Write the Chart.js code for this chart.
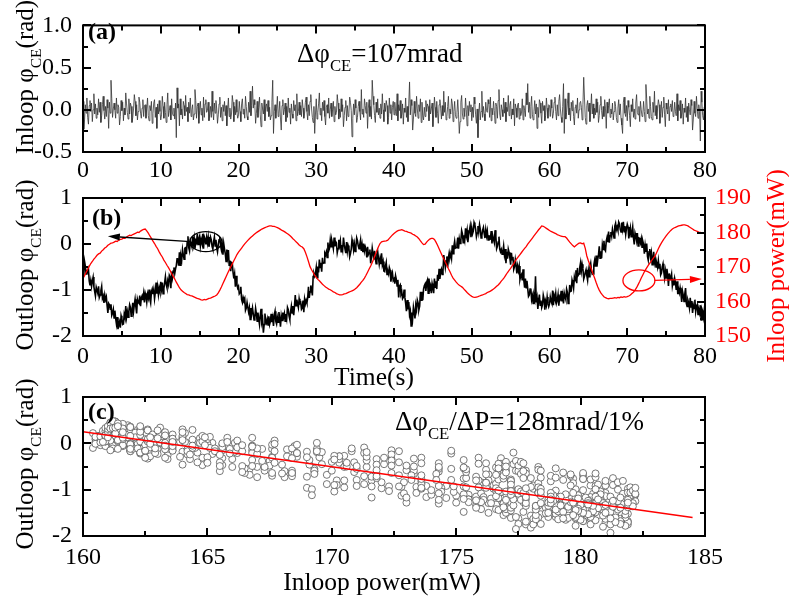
<!DOCTYPE html>
<html>
<head>
<meta charset="utf-8">
<script src="https://cdn.jsdelivr.net/npm/chart.js@4.4.1/dist/chart.umd.min.js"></script>
<style>
  html, body { margin: 0; padding: 0; background: #fff; }
  #wrap { position: relative; width: 789px; height: 603px; }
  #wrap canvas { position: absolute; left: 0; top: 0; }
</style>
</head>
<body>
<div id="wrap">
  <canvas id="chart-a" width="789" height="603"></canvas>
  <canvas id="chart-b" width="789" height="603"></canvas>
  <canvas id="chart-c" width="789" height="603"></canvas>
</div>
<script>
const PHASE_STEP = 0.1; // s between phase samples
const POWER_STEP = 0.2; // s between power samples

// (a) in-loop CE phase, rad, one row = 4 s
const inloopPhase = [
  0.1, -0.23, -0.12, 0.06, -0.04, 0.14, -0.09, -0.17, 0.05, 0.11, -0.02, 0.08, -0.14, 0.0, 0.19, -0.05, 0.07, -0.1, 0.02, -0.06, 0.13, -0.03, 0.09, -0.15, -0.07, 0.06, 0.16, -0.01, -0.11, 0.04, -0.08, 0.12, 0.02, -0.22, 0.09, -0.04, 0.35, 0.13, -0.09, 0.01,
  0.08, 0.0, -0.1, 0.14, -0.04, 0.06, 0.03, -0.18, -0.08, 0.11, -0.01, 0.09, -0.13, 0.02, -0.06, 0.2, 0.07, -0.03, -0.11, 0.13, -0.05, 0.08, 0.04, -0.15, -0.09, 0.01, 0.18, 0.1, -0.07, 0.06, -0.12, -0.02, 0.15, 0.09, -0.04, -0.1, 0.02, 0.12, -0.08, 0.05,
  0.06, -0.1, 0.02, 0.14, -0.07, -0.13, 0.05, -0.01, 0.1, -0.16, -0.04, 0.08, 0.12, -0.09, 0.03, -0.22, 0.07, -0.05, 0.11, -0.02, -0.12, -0.06, 0.16, 0.04, -0.1, 0.09, -0.03, -0.15, 0.06, 0.2, -0.08, -0.01, 0.05, -0.12, 0.13, -0.04, -0.07, 0.02, -0.11, 0.08,
  -0.33, 0.26, 0.02, 0.07, -0.19, 0.13, -0.06, 0.01, -0.11, 0.1, 0.05, -0.07, 0.17, -0.02, 0.03, -0.14, 0.09, -0.04, 0.14, -0.08, 0.0, 0.06, -0.12, -0.05, 0.24, 0.11, -0.1, 0.04, 0.08, -0.16, -0.01, 0.1, -0.06, 0.02, -0.13, 0.15, -0.09, 0.07, 0.12, -0.03,
  -0.01, 0.09, -0.13, -0.05, 0.04, -0.09, 0.22, -0.02, -0.12, 0.08, -0.04, 0.11, 0.01, -0.16, -0.06, 0.07, 0.15, -0.09, 0.03, -0.13, 0.06, -0.02, 0.1, -0.07, 0.05, -0.19, 0.0, 0.14, -0.08, 0.02, -0.11, -0.05, 0.17, 0.09, -0.14, 0.04, -0.06, 0.12, -0.03, -0.1,
  -0.06, 0.1, -0.02, -0.14, 0.07, 0.13, -0.05, 0.01, -0.1, 0.16, 0.04, -0.08, -0.12, 0.09, -0.03, 0.22, -0.07, 0.05, 0.28, 0.02, 0.12, 0.06, -0.16, -0.04, 0.1, -0.09, 0.03, 0.15, -0.06, -0.2, 0.08, 0.01, -0.05, 0.12, -0.13, 0.04, 0.07, -0.02, 0.11, -0.08,
  0.03, -0.12, -0.07, 0.09, 0.35, -0.28, -0.02, 0.06, -0.1, 0.01, 0.16, -0.08, -0.04, 0.1, -0.11, -0.24, 0.05, 0.12, -0.06, 0.0, 0.08, -0.14, 0.04, -0.09, 0.14, -0.03, 0.02, -0.17, 0.07, -0.05, -0.1, 0.11, -0.01, 0.06, -0.13, 0.19, -0.07, -0.02, 0.09, -0.06,
  0.05, -0.08, 0.12, 0.02, -0.1, -0.04, 0.09, 0.15, -0.02, -0.12, 0.06, -0.07, 0.1, 0.18, 0.01, -0.09, -0.15, 0.04, -0.28, -0.05, 0.13, -0.11, -0.03, 0.07, 0.2, -0.06, 0.02, -0.13, 0.09, -0.01, 0.11, -0.08, -0.18, 0.03, 0.06, -0.04, 0.14, -0.1, 0.0, 0.08,
  -0.08, 0.0, 0.1, -0.14, 0.04, -0.06, -0.03, 0.18, 0.08, -0.11, 0.01, -0.09, 0.13, -0.02, 0.06, -0.2, -0.07, 0.03, 0.11, -0.13, 0.05, -0.08, -0.04, 0.15, 0.09, -0.01, -0.32, -0.1, 0.07, -0.06, 0.12, 0.02, -0.15, -0.09, 0.04, 0.1, -0.02, -0.12, 0.24, -0.05,
  0.01, -0.09, 0.13, 0.05, -0.04, 0.09, -0.22, 0.02, 0.12, -0.08, 0.04, -0.11, 0.35, 0.16, 0.06, -0.07, -0.15, 0.09, -0.03, 0.13, -0.06, 0.02, -0.1, 0.07, -0.05, 0.19, 0.0, -0.14, 0.08, -0.02, 0.11, 0.05, -0.17, -0.09, 0.14, -0.04, 0.06, -0.12, 0.03, 0.1,
  -0.06, 0.09, -0.02, -0.07, 0.19, -0.13, 0.06, -0.01, 0.11, -0.1, -0.05, 0.07, -0.17, 0.02, -0.03, 0.14, -0.09, 0.04, -0.14, 0.08, 0.33, -0.06, 0.12, 0.05, -0.24, -0.11, 0.1, -0.04, -0.08, 0.16, 0.01, -0.1, 0.06, -0.02, 0.13, -0.15, 0.09, -0.07, -0.12, 0.03,
  -0.08, 0.11, -0.02, 0.07, 0.04, -0.13, 0.12, -0.05, 0.01, 0.08, -0.2, -0.06, 0.15, 0.03, -0.09, 0.1, -0.04, -0.16, 0.06, 0.12, 0.02, -0.11, 0.05, -0.07, 0.22, -0.03, 0.09, -0.12, -0.08, 0.04, 0.16, -0.1, 0.01, -0.05, 0.13, 0.07, -0.14, -0.02, 0.1, -0.06,
  -0.1, -0.03, 0.12, -0.06, -0.28, -0.14, 0.09, 0.17, -0.05, -0.11, 0.02, -0.08, 0.14, 0.0, -0.19, 0.05, -0.07, 0.1, -0.02, 0.06, -0.13, 0.03, -0.09, 0.15, 0.07, -0.06, -0.16, 0.01, -0.33, -0.04, 0.08, -0.12, -0.02, 0.22, -0.09, 0.04, -0.05, -0.13, 0.09, -0.01,
  -0.03, 0.12, 0.07, -0.09, 0.15, -0.13, 0.02, -0.06, 0.1, -0.01, -0.16, 0.08, 0.04, -0.1, 0.11, 0.24, -0.05, -0.12, 0.06, 0.0, -0.08, 0.14, -0.04, 0.09, -0.14, 0.03, -0.02, 0.17, -0.07, 0.05, 0.1, -0.11, 0.01, -0.06, 0.13, -0.19, 0.07, 0.02, -0.09, 0.06,
  0.08, -0.11, 0.02, -0.07, -0.04, 0.13, -0.12, 0.05, -0.01, -0.08, 0.2, 0.06, 0.31, -0.03, 0.09, -0.1, 0.04, 0.16, -0.06, -0.12, -0.02, 0.11, -0.05, 0.07, -0.22, 0.03, -0.09, 0.12, 0.08, -0.04, -0.16, 0.1, -0.01, 0.05, -0.13, -0.07, 0.14, 0.02, -0.1, 0.06,
  0.05, -0.08, 0.12, 0.02, -0.1, -0.04, 0.09, 0.15, -0.02, -0.12, 0.06, -0.07, 0.1, 0.18, 0.01, -0.09, -0.15, 0.04, 0.31, -0.28, 0.13, -0.11, -0.03, 0.07, 0.2, -0.06, 0.02, -0.13, 0.09, -0.01, 0.11, -0.08, -0.18, 0.03, 0.06, -0.04, 0.14, -0.1, 0.0, 0.08,
  0.1, 0.03, -0.12, 0.06, 0.385, 0.14, -0.09, -0.17, 0.05, 0.11, -0.02, 0.08, -0.14, 0.0, 0.19, -0.05, 0.07, -0.1, 0.02, -0.06, 0.13, -0.03, 0.09, -0.15, -0.07, 0.06, 0.16, -0.01, -0.11, 0.04, -0.08, 0.12, 0.02, -0.22, 0.09, -0.04, 0.05, 0.13, -0.09, 0.01,
  -0.05, 0.08, -0.12, -0.02, 0.1, 0.04, -0.09, -0.15, 0.02, 0.12, -0.06, 0.07, -0.1, -0.18, -0.28, 0.09, 0.15, -0.04, -0.08, 0.05, -0.13, 0.11, 0.03, -0.07, -0.2, 0.06, -0.02, 0.13, -0.09, 0.01, -0.11, 0.08, 0.18, -0.03, -0.06, 0.04, -0.14, 0.1, 0.0, -0.08,
  -0.06, 0.1, -0.02, -0.14, 0.3, 0.13, -0.05, 0.01, -0.1, 0.16, 0.04, -0.08, -0.12, 0.09, -0.03, 0.22, -0.07, 0.05, -0.11, 0.02, 0.12, 0.06, -0.16, -0.04, 0.1, -0.09, 0.03, 0.15, -0.06, -0.2, 0.08, 0.01, -0.05, 0.12, -0.13, 0.04, 0.07, -0.02, 0.11, -0.08,
  -0.06, 0.09, -0.02, -0.07, 0.19, -0.13, 0.06, -0.01, 0.11, -0.1, -0.05, 0.07, -0.17, 0.02, -0.03, 0.14, -0.09, 0.04, -0.14, 0.08, 0.0, -0.06, 0.12, 0.05, -0.24, -0.11, 0.1, -0.04, -0.08, 0.16, 0.01, -0.1, 0.06, -0.02, -0.37, 0.22, 0.09, -0.07, -0.12, 0.03,
  0.05
];

// (b) out-of-loop CE phase, rad, one row = 4 s
const outloopPhase = [
  -0.55, -0.68, -0.38, -0.48, -0.65, -0.59, -0.61, -0.55, -0.8, -0.9, -0.79, -0.92, -0.8, -0.72, -0.93, -1.03, -1.13, -0.94, -0.94, -1.07, -0.92, -1.16, -1.11, -1.01, -0.92, -1.18, -1.13, -1.28, -1.11, -1.21, -1.15, -1.34, -1.5, -1.29, -1.32, -1.42, -1.31, -1.55, -1.5, -1.42,
  -1.61, -1.45, -1.62, -1.74, -1.59, -1.85, -1.75, -1.69, -1.82, -1.56, -1.63, -1.75, -1.74, -1.53, -1.6, -1.35, -1.59, -1.47, -1.59, -1.46, -1.32, -1.38, -1.57, -1.45, -1.28, -1.47, -1.32, -1.2, -1.37, -1.51, -1.2, -1.27, -1.29, -1.12, -1.35, -1.18, -1.13, -1.22, -1.08, -1.27,
  -1.07, -1.14, -1.27, -1.09, -1.17, -0.99, -1.2, -1.28, -1.04, -0.98, -1.09, -0.99, -1.19, -1.05, -0.84, -1.08, -0.93, -1.1, -0.96, -1.04, -0.82, -0.98, -0.84, -1.08, -0.97, -0.84, -0.71, -0.88, -0.95, -0.8, -0.88, -0.68, -0.72, -0.96, -0.6, -0.73, -0.59, -0.51, -0.64, -0.54,
  -0.47, -0.32, -0.31, -0.47, -0.18, -0.46, -0.26, -0.34, -0.12, -0.23, -0.33, -0.09, -0.08, -0.22, 0.04, 0.17, -0.08, -0.15, 0.06, 0.0, -0.06, 0.16, -0.01, 0.12, -0.1, 0.07, 0.03, 0.22, -0.01, 0.11, 0.17, -0.04, 0.09, 0.02, 0.22, -0.1, 0.16, 0.11, -0.01, 0.14,
  0.02, 0.15, -0.06, 0.04, 0.15, 0.09, -0.05, -0.11, 0.05, 0.15, -0.04, 0.09, -0.09, -0.17, -0.01, 0.09, 0.15, -0.04, -0.13, 0.0, -0.23, 0.01, -0.11, -0.21, -0.38, -0.12, -0.28, -0.13, -0.46, -0.36, -0.59, -0.4, -0.41, -0.62, -0.75, -0.65, -0.93, -0.69, -0.88, -0.96,
  -0.92, -1.08, -1.05, -0.93, -1.21, -1.27, -1.16, -1.22, -1.18, -1.44, -1.39, -1.27, -1.27, -1.48, -1.39, -1.64, -1.39, -1.51, -1.39, -1.52, -1.65, -1.59, -1.4, -1.52, -1.68, -1.49, -1.63, -1.75, -1.55, -1.41, -1.7, -1.63, -1.93, -1.75, -1.51, -1.68, -1.72, -1.63, -1.76, -1.57,
  -1.75, -1.68, -1.52, -1.7, -1.6, -1.78, -1.54, -1.46, -1.68, -1.74, -1.6, -1.7, -1.48, -1.62, -1.8, -1.56, -1.66, -1.49, -1.59, -1.51, -1.68, -1.52, -1.62, -1.38, -1.43, -1.56, -1.64, -1.47, -1.35, -1.5, -1.35, -1.55, -1.35, -1.11, -1.34, -1.21, -1.3, -1.38, -1.19, -1.29,
  -1.27, -1.42, -1.39, -1.23, -1.48, -1.2, -1.3, -1.22, -1.28, -1.17, -0.93, -1.17, -1.04, -0.9, -0.99, -1.12, -0.71, -0.64, -0.7, -0.64, -0.51, -0.73, -0.49, -0.62, -0.34, -0.51, -0.41, -0.6, -0.3, -0.42, -0.41, -0.2, -0.24, -0.17, -0.29, 0.03, -0.15, -0.1, 0.09, -0.06,
  0.08, 0.0, -0.1, 0.14, -0.05, 0.05, 0.02, -0.19, -0.1, 0.09, -0.03, 0.07, -0.17, -0.02, -0.12, 0.14, -0.01, -0.11, -0.2, 0.04, -0.16, -0.03, -0.09, -0.28, -0.21, -0.11, 0.1, 0.02, -0.13, 0.0, -0.16, -0.06, 0.13, 0.07, -0.04, -0.1, -0.01, 0.09, -0.15, -0.02,
  -0.18, 0.01, -0.15, -0.06, -0.12, -0.29, -0.06, -0.23, -0.19, -0.12, -0.42, -0.28, -0.09, -0.21, -0.34, -0.15, -0.31, -0.43, -0.22, -0.16, -0.31, -0.44, -0.32, -0.44, -0.2, -0.45, -0.38, -0.59, -0.6, -0.48, -0.4, -0.66, -0.59, -0.65, -0.51, -0.57, -0.82, -0.7, -0.63, -0.79,
  -0.76, -0.86, -0.69, -0.77, -0.91, -0.78, -1.16, -0.92, -0.89, -1.09, -1.04, -1.19, -1.16, -0.99, -1.16, -1.29, -1.46, -1.22, -1.42, -1.26, -1.54, -1.46, -1.78, -1.49, -1.61, -1.37, -1.48, -1.62, -1.33, -1.43, -1.22, -1.28, -1.43, -1.35, -1.04, -1.22, -1.04, -1.22, -0.98, -0.91,
  -0.87, -1.02, -0.83, -0.78, -1.07, -0.75, -0.98, -0.91, -1.07, -0.86, -0.95, -1.07, -0.75, -0.94, -0.81, -0.98, -0.67, -0.8, -0.54, -0.76, -0.61, -0.55, -0.66, -0.59, -0.24, -0.37, -0.51, -0.37, -0.27, -0.51, -0.3, -0.19, -0.29, -0.21, -0.31, -0.03, -0.21, -0.05, 0.06, -0.09,
  -0.08, 0.0, 0.14, -0.1, 0.11, 0.01, 0.08, 0.29, 0.22, 0.03, 0.19, 0.09, 0.34, 0.19, 0.3, 0.04, 0.19, 0.29, 0.39, 0.15, 0.35, 0.22, 0.28, 0.47, 0.42, 0.32, 0.16, 0.24, 0.39, 0.26, 0.42, 0.32, 0.13, 0.19, 0.3, 0.36, 0.23, 0.13, 0.31, 0.18,
  0.28, 0.09, 0.19, 0.1, 0.11, 0.28, 0.01, 0.18, 0.1, 0.03, 0.3, 0.16, -0.1, -0.05, 0.04, 0.16, -0.11, -0.17, -0.12, -0.22, -0.17, -0.04, -0.23, -0.11, -0.42, -0.17, -0.32, -0.11, -0.18, -0.3, -0.45, -0.19, -0.34, -0.28, -0.55, -0.49, -0.34, -0.46, -0.64, -0.48,
  -0.58, -0.48, -0.77, -0.69, -0.66, -0.79, -0.55, -0.79, -0.95, -0.75, -0.95, -0.8, -0.97, -1.14, -1.11, -0.98, -0.97, -1.21, -1.13, -1.29, -1.12, -1.2, -0.7, -1.27, -1.17, -1.41, -1.24, -1.1, -1.33, -1.23, -1.38, -1.32, -1.11, -1.19, -1.43, -1.25, -1.33, -1.15, -1.29, -1.36,
  -1.3, -1.15, -1.24, -1.29, -1.01, -1.33, -1.12, -1.19, -1.07, -1.28, -1.22, -1.1, -1.34, -1.15, -1.19, -1.02, -1.25, -1.12, -1.29, -1.07, -1.15, -1.21, -0.98, -1.05, -1.29, -1.16, -0.89, -1.03, -1.02, -0.78, -0.85, -0.96, -0.72, -0.8, -0.57, -0.85, -0.52, -0.68, -0.65, -0.5,
  -0.4, -0.58, -0.44, -0.54, -0.76, -0.7, -0.62, -0.56, -0.69, -0.79, -0.58, -0.71, -0.5, -0.42, -0.59, -0.66, -0.65, -0.46, -0.36, -0.49, -0.25, -0.49, -0.34, -0.24, -0.05, -0.31, -0.16, -0.31, -0.02, -0.12, 0.07, -0.12, -0.15, 0.06, 0.14, 0.04, 0.27, 0.03, 0.18, 0.26,
  0.17, 0.33, 0.25, 0.13, 0.39, 0.45, 0.31, 0.37, 0.3, 0.48, 0.44, 0.32, 0.26, 0.47, 0.33, 0.48, 0.27, 0.39, 0.21, 0.34, 0.43, 0.37, 0.12, 0.24, 0.35, 0.16, 0.25, 0.37, 0.13, -0.01, 0.24, 0.17, 0.07, 0.24, -0.04, 0.13, 0.12, 0.03, 0.12, -0.07,
  0.06, -0.01, -0.21, -0.03, -0.17, 0.01, -0.27, -0.35, -0.17, -0.11, -0.29, -0.19, -0.45, -0.31, -0.17, -0.41, -0.33, -0.5, -0.43, -0.51, -0.36, -0.52, -0.43, -0.67, -0.63, -0.5, -0.43, -0.6, -0.74, -0.59, -0.74, -0.54, -0.67, -0.91, -0.64, -0.77, -0.73, -0.65, -0.91, -0.81,
  -0.9, -0.75, -0.84, -1.0, -0.81, -1.09, -0.98, -1.06, -0.95, -1.06, -1.26, -1.02, -1.11, -1.25, -1.09, -0.96, -1.29, -1.36, -1.22, -1.28, -1.39, -1.17, -1.37, -1.24, -1.5, -1.33, -1.4, -1.21, -1.47, -1.35, -1.32, -1.53, -1.43, -1.5, -1.33, -1.65, -1.41, -1.46, -1.59, -1.44,
  -1.55
];

// (b) in-loop power, mW, one row = 4 s
const inloopPower = [
  166.7, 167.5, 168.4, 169.3, 170.2, 171.0, 171.6, 172.3, 172.8, 173.4, 173.8, 174.0, 174.6, 175.0, 175.5, 175.8, 176.3, 176.6, 176.9, 177.0,
  177.2, 177.5, 177.4, 177.8, 178.0, 178.1, 178.4, 178.3, 178.7, 179.0, 179.2, 179.1, 179.4, 179.6, 179.8, 180.1, 180.0, 180.4, 180.7, 180.9,
  181.0, 180.5, 179.8, 179.0, 178.3, 177.5, 176.8, 176.0, 175.3, 174.4, 173.6, 172.9, 172.0, 171.3, 170.5, 169.8, 169.0, 168.1, 167.3, 166.5,
  165.6, 164.8, 164.0, 163.4, 163.0, 162.6, 162.3, 162.0, 161.9, 161.7, 161.6, 161.4, 161.2, 161.0, 160.8, 160.7, 160.5, 160.4, 160.6, 160.5,
  160.7, 160.9, 161.0, 161.2, 161.4, 161.6, 161.9, 162.5, 163.3, 164.2, 165.2, 166.2, 167.2, 168.2, 169.1, 170.0, 170.9, 171.8, 172.7, 173.6,
  174.3, 174.9, 175.5, 176.1, 176.7, 177.2, 177.7, 178.2, 178.6, 179.0, 179.4, 179.8, 180.1, 180.4, 180.7, 181.0, 181.2, 181.4, 181.6, 181.8,
  181.9, 181.9, 181.8, 181.8, 181.6, 181.4, 181.2, 180.9, 180.6, 180.4, 180.1, 179.8, 179.5, 179.1, 178.7, 178.2, 177.8, 177.3, 176.9, 176.4,
  176.0, 175.8, 175.3, 174.3, 173.0, 171.6, 170.1, 169.2, 168.4, 167.6, 167.0, 166.4, 166.0, 165.5, 165.0, 164.6, 164.2, 163.9, 163.6, 163.4,
  163.1, 162.8, 162.6, 162.3, 162.1, 161.9, 161.9, 162.0, 162.2, 162.3, 162.5, 162.7, 162.9, 163.1, 163.3, 163.6, 164.0, 164.5, 165.0, 165.6,
  166.1, 166.8, 167.6, 168.5, 169.4, 170.3, 171.3, 172.4, 173.6, 174.8, 175.9, 176.8, 177.3, 177.4, 177.5, 177.6, 177.8, 178.3, 178.8, 179.3,
  179.7, 180.1, 180.4, 180.6, 180.7, 180.8, 180.6, 180.4, 180.3, 180.1, 180.0, 179.8, 179.5, 179.3, 179.0, 178.7, 178.2, 177.6, 177.0, 176.5,
  176.6, 177.2, 177.7, 178.1, 178.3, 178.3, 178.0, 177.2, 176.3, 175.3, 174.3, 173.3, 172.4, 171.4, 170.5, 169.5, 168.6, 167.6, 166.8, 166.2,
  165.6, 165.1, 164.7, 164.4, 164.1, 163.6, 163.1, 162.6, 162.2, 161.8, 161.5, 161.3, 161.2, 161.3, 161.4, 161.6, 161.8, 161.9, 162.1, 162.3,
  162.6, 162.8, 163.0, 163.3, 163.6, 164.0, 164.4, 164.8, 165.3, 165.9, 166.4, 167.0, 167.7, 168.4, 169.0, 169.6, 170.3, 171.0, 171.8, 172.4,
  173.0, 173.6, 174.2, 174.8, 175.4, 175.9, 176.6, 177.2, 177.8, 178.4, 179.0, 179.6, 180.2, 180.8, 181.3, 181.9, 181.8, 181.5, 181.2, 180.9,
  180.6, 180.3, 180.1, 179.9, 179.7, 179.4, 179.2, 179.0, 178.9, 178.8, 178.8, 178.4, 177.8, 177.2, 176.7, 176.2, 175.8, 176.2, 176.6, 176.9,
  177.0, 176.7, 176.9, 175.4, 173.2, 171.8, 170.6, 169.3, 168.0, 166.8, 165.5, 164.3, 163.3, 162.5, 161.9, 161.4, 161.1, 160.9, 160.8, 160.9,
  160.9, 161.0, 161.1, 161.0, 161.2, 161.1, 161.3, 161.2, 161.4, 161.3, 161.4, 161.6, 161.9, 162.3, 162.7, 163.3, 164.0, 164.9, 165.8, 166.8,
  167.7, 168.6, 169.4, 170.1, 170.8, 171.4, 172.1, 172.7, 173.3, 174.3, 175.3, 176.2, 177.0, 177.7, 178.4, 179.0, 179.6, 180.1, 180.6, 181.0,
  181.3, 181.5, 181.7, 181.9, 182.0, 182.1, 182.2, 182.2, 182.1, 181.9, 181.6, 181.3, 181.0, 180.7, 180.5, 180.3, 180.1, 180.0, 179.9, 179.8,
  179.7
];

// (c) linear fit of outloop phase against inloop power
const fitPower = [160, 184.5];
const fitPhase = [0.25, -1.6];

const SERIF = "'Liberation Serif', 'Times New Roman', serif";
const RED = '#ff0000';
const X_AXIS_H = 30;
const LEFT_W = 83;
const RIGHT_W = 84;
const PAGE_H = 603;

const series = (ys, step) => ys.map((y, i) => ({ x: +(i * step).toFixed(1), y }));

// frame + inward ticks on all four sides
function frame(cfg) {
  return {
    id: 'frame',
    afterDatasetsDraw(chart) {
      const { ctx, chartArea: a, scales } = chart;
      const marks = (scale, major, minor, fn) => {
        const n = Math.round((scale.max - scale.min) / minor);
        for (let i = 0; i <= n; i++) {
          const v = scale.min + i * minor;
          const isMajor = Math.abs(v / major - Math.round(v / major)) < 1e-6;
          fn(Math.round(scale.getPixelForValue(v)), isMajor ? 8 : 5);
        }
      };
      ctx.save();
      ctx.strokeStyle = '#000';
      ctx.lineWidth = 2;
      ctx.beginPath();
      marks(scales.x, cfg.x[0], cfg.x[1], (p, len) => {
        ctx.moveTo(p, a.bottom); ctx.lineTo(p, a.bottom - len);
        ctx.moveTo(p, a.top); ctx.lineTo(p, a.top + len);
      });
      marks(scales[cfg.left[0]], cfg.left[1], cfg.left[2], (p, len) => {
        ctx.moveTo(a.left, p); ctx.lineTo(a.left + len, p);
      });
      marks(scales[cfg.right[0]], cfg.right[1], cfg.right[2], (p, len) => {
        ctx.moveTo(a.right, p); ctx.lineTo(a.right - len, p);
      });
      ctx.stroke();
      ctx.strokeRect(a.left, a.top, a.right - a.left, a.bottom - a.top);
      ctx.restore();
    }
  };
}

// text with CE subscripts; parts = [[text, isSub], ...]
function drawRich(ctx, it) {
  const font = s => `${it.bold ? 'bold ' : ''}${s}px ${SERIF}`;
  ctx.save();
  ctx.translate(it.x, it.y);
  if (it.rotate) ctx.rotate(-Math.PI / 2);
  ctx.fillStyle = it.color || '#000';
  ctx.textBaseline = 'alphabetic';
  ctx.textAlign = 'left';
  const widths = it.parts.map(([t, sub]) => {
    ctx.font = font(sub ? it.size * 0.62 : it.size);
    return ctx.measureText(t).width;
  });
  let cur = it.center ? -widths.reduce((s, w) => s + w, 0) / 2 : 0;
  it.parts.forEach(([t, sub], i) => {
    ctx.font = font(sub ? it.size * 0.62 : it.size);
    ctx.fillText(t, cur, sub ? it.size * 0.33 : 0);
    cur += widths[i];
  });
  ctx.restore();
}

function texts(items) {
  return { id: 'texts', afterDraw(chart) { items.forEach(it => drawRich(chart.ctx, it)); } };
}

// ellipse + arrow callouts pointing to the axis a curve belongs to
function callouts(items) {
  return {
    id: 'callouts',
    afterDatasetsDraw(chart) {
      const { ctx, scales } = chart;
      items.forEach(c => {
        const ys = scales[c.axis];
        const cx = scales.x.getPixelForValue(c.at[0]);
        const cy = ys.getPixelForValue(c.at[1]);
        const tx = scales.x.getPixelForValue(c.to[0]);
        const ty = ys.getPixelForValue(c.to[1]);
        const sx = cx + Math.sign(tx - cx) * c.rx * 0.97;
        ctx.save();
        ctx.strokeStyle = c.color;
        ctx.fillStyle = c.color;
        ctx.lineWidth = 1.3;
        ctx.beginPath();
        ctx.ellipse(cx, cy, c.rx, c.ry, 0, 0, Math.PI * 2);
        ctx.stroke();
        const ang = Math.atan2(ty - cy, tx - sx);
        const hx = tx - Math.cos(ang) * 12, hy = ty - Math.sin(ang) * 12;
        ctx.beginPath();
        ctx.moveTo(sx, cy);
        ctx.lineTo(hx, hy);
        ctx.stroke();
        ctx.beginPath();
        ctx.moveTo(tx, ty);
        ctx.lineTo(hx - Math.sin(ang) * 3.5, hy + Math.cos(ang) * 3.5);
        ctx.lineTo(hx + Math.sin(ang) * 3.5, hy - Math.cos(ang) * 3.5);
        ctx.closePath();
        ctx.fill();
        ctx.restore();
      });
    }
  };
}

const tickFont = { family: SERIF, size: 24 };

function xScale(min, max, step, pad) {
  return {
    type: 'linear', min, max,
    grid: { display: false, drawTicks: false }, border: { display: false },
    ticks: { stepSize: step, font: tickFont, color: '#000', padding: pad, maxRotation: 0, autoSkip: false },
    afterFit: s => { s.height = X_AXIS_H; }
  };
}

function yScale(min, max, step, opts) {
  const o = opts || {};
  return {
    type: 'linear', min, max, position: o.position || 'left',
    grid: { display: false, drawTicks: false }, border: { display: false },
    ticks: {
      stepSize: step, font: tickFont, color: o.color || '#000', padding: o.pad || 11,
      autoSkip: false, callback: o.format || (v => String(v))
    },
    afterFit: s => { s.width = o.position === 'right' ? RIGHT_W : LEFT_W; }
  };
}

function layout(top, bottom, hasRight) {
  return { padding: { top, bottom: PAGE_H - bottom - X_AXIS_H, left: 0, right: hasRight ? 0 : RIGHT_W } };
}

const common = {
  responsive: false,
  animation: false,
  devicePixelRatio: 1,
  events: [],
  plugins: { legend: { display: false }, tooltip: { enabled: false } }
};

const PHASE_TITLE = (word, y) => ({
  parts: [[word + ' φ'], ['CE', true], ['(rad)']], size: 25, x: 33, y, rotate: true, center: true
});

// (a)
new Chart(document.getElementById('chart-a'), {
  type: 'line',
  data: {
    datasets: [{
      data: series(inloopPhase, PHASE_STEP), borderColor: '#333', borderWidth: 0.8,
      pointRadius: 0, tension: 0
    }]
  },
  options: {
    ...common,
    layout: layout(13, 152, false),
    scales: {
      x: xScale(0, 80, 10, 4),
      y: yScale(-0.5, 1.0, 0.5, { format: v => v.toFixed(1) })
    }
  },
  plugins: [
    frame({ x: [10, 5], left: ['y', 0.5, 0.25], right: ['y', 0.5, 0.25] }),
    texts([
      PHASE_TITLE('Inloop', 77),
      { parts: [['(a)']], size: 24, bold: true, x: 88, y: 39 },
      { parts: [['Δφ'], ['CE', true], ['=107mrad']], size: 27, x: 297, y: 62 }
    ])
  ]
});

// (b)
new Chart(document.getElementById('chart-b'), {
  type: 'line',
  data: {
    datasets: [
      {
        data: series(inloopPower, POWER_STEP), yAxisID: 'y2', borderColor: RED, borderWidth: 1.3,
        pointRadius: 0, tension: 0
      },
      {
        data: series(outloopPhase, PHASE_STEP), yAxisID: 'y', borderColor: '#000', borderWidth: 1.6,
        pointRadius: 0, tension: 0
      }
    ]
  },
  options: {
    ...common,
    layout: layout(198, 336, true),
    scales: {
      x: xScale(0, 80, 10, 6),
      y: yScale(-2, 1, 1),
      y2: yScale(150, 190, 10, { position: 'right', color: RED, pad: 10 })
    }
  },
  plugins: [
    frame({ x: [10, 5], left: ['y', 1, 0.5], right: ['y2', 10, 5] }),
    callouts([
      { axis: 'y', at: [15.8, 0.05], to: [3.2, 0.17], rx: 16, ry: 10, color: '#000' },
      { axis: 'y2', at: [71.5, 166.1], to: [79.6, 166.5], rx: 16, ry: 10.5, color: RED }
    ]),
    texts([
      PHASE_TITLE('Outloop', 265),
      { parts: [['Inloop power(mW)']], size: 25, x: 784, y: 266, rotate: true, center: true, color: RED },
      { parts: [['Time(s)']], size: 25.5, x: 374, y: 385, center: true },
      { parts: [['(b)']], size: 24, bold: true, x: 92, y: 225 }
    ])
  ]
});

// (c) each phase sample against the power sample held at that time, plus the fit
const scatterPoints = outloopPhase.map((ph, i) => ({
  x: inloopPower[Math.min(Math.floor(i * PHASE_STEP / POWER_STEP + 1e-9), inloopPower.length - 1)],
  y: ph
}));
const fitLine = fitPower.map((p, i) => ({ x: p, y: fitPhase[i] }));

new Chart(document.getElementById('chart-c'), {
  type: 'scatter',
  data: {
    datasets: [
      {
        data: fitLine, showLine: true, borderColor: RED, borderWidth: 1.6,
        pointRadius: 0
      },
      {
        data: scatterPoints, pointRadius: 3.5, pointBorderWidth: 0.8,
        pointBorderColor: '#555', pointBackgroundColor: '#fff'
      }
    ]
  },
  options: {
    ...common,
    layout: layout(397, 536, false),
    scales: {
      x: xScale(160, 185, 5, 7),
      y: yScale(-2, 1, 1)
    }
  },
  plugins: [
    frame({ x: [5, 2.5], left: ['y', 1, 0.5], right: ['y', 1, 0.5] }),
    texts([
      PHASE_TITLE('Outloop', 464),
      { parts: [['Inloop power(mW)']], size: 25.5, x: 382, y: 590, center: true },
      { parts: [['(c)']], size: 24, bold: true, x: 88, y: 419 },
      { parts: [['Δφ'], ['CE', true], ['/ΔP=128mrad/1%']], size: 27, x: 395, y: 430 }
    ])
  ]
});
</script>
</body>
</html>
